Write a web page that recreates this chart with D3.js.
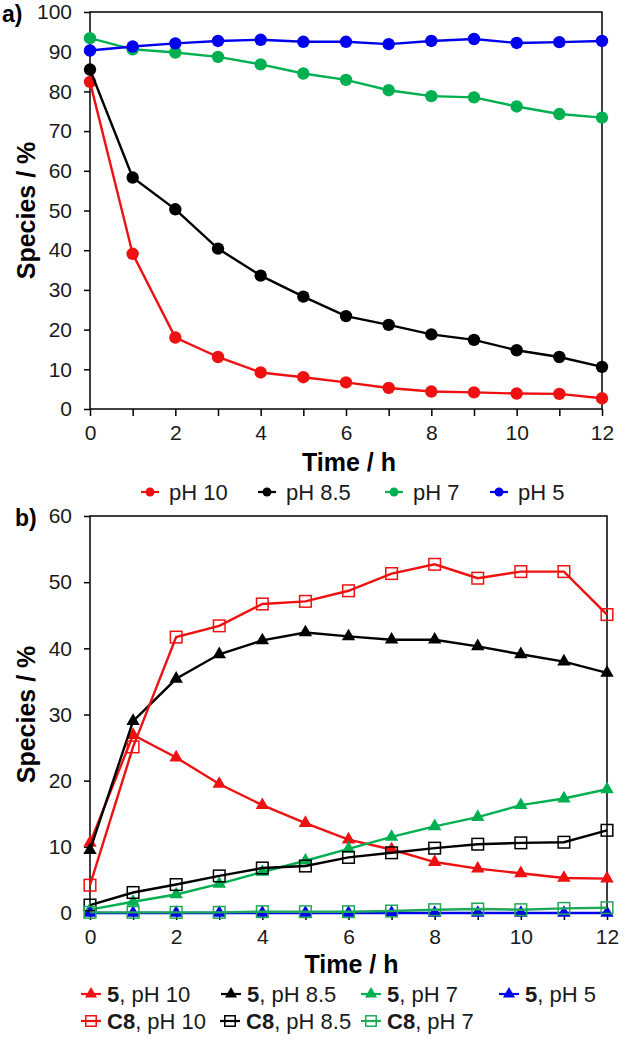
<!DOCTYPE html>
<html>
<head>
<meta charset="utf-8">
<script src="https://cdn.jsdelivr.net/npm/d3@7/dist/d3.min.js"></script>
<style>
  html, body { margin: 0; padding: 0; background: #fff; }
  svg { display: block; }
  text { font-family: "Liberation Sans", Arial, sans-serif; }
</style>
</head>
<body>
<svg id="chart" width="626" height="1040"></svg>
<script>
// ---------- DATA ----------
const hours = [0,1,2,3,4,5,6,7,8,9,10,11,12];
const xTicks = [0,2,4,6,8,10,12];

// Panel a: species remaining (%)
const a_pH10  = [82.4,39.1,18.0,13.1,9.2,8.0,6.7,5.3,4.4,4.2,3.9,3.8,2.7];
const a_pH85  = [85.5,58.3,50.3,40.4,33.6,28.3,23.4,21.2,18.8,17.4,14.8,13.1,10.6];
const a_pH7   = [93.4,90.6,89.8,88.7,86.8,84.5,82.9,80.3,78.8,78.5,76.2,74.3,73.4];
const a_pH5   = [90.3,91.3,92.1,92.7,93.0,92.5,92.5,91.9,92.7,93.2,92.2,92.4,92.7];
const aYTicks = [0,10,20,30,40,50,60,70,80,90,100];

// Panel b: product species (%)
const b5_pH10  = [10.6,26.9,23.5,19.5,16.3,13.6,11.1,9.6,7.7,6.7,6.0,5.3,5.2];
const b5_pH85  = [9.5,29.0,35.4,39.1,41.2,42.4,41.8,41.3,41.3,40.3,39.1,38.0,36.3];
const b5_pH7   = [0.5,1.7,2.8,4.4,6.2,7.9,9.7,11.5,13.1,14.5,16.3,17.3,18.7];
const b5_pH5   = [0.0,0.0,0.0,0.0,0.0,0.0,0.0,0.0,0.0,0.0,0.0,0.0,0.0];
const bC8_pH10 = [4.2,25.1,41.7,43.4,46.7,47.1,48.7,51.3,52.7,50.6,51.6,51.6,45.1];
const bC8_pH85 = [1.2,3.1,4.3,5.6,6.8,7.1,8.4,9.1,9.8,10.4,10.6,10.7,12.5];
const bC8_pH7  = [0.1,0.1,0.1,0.1,0.2,0.2,0.2,0.3,0.5,0.6,0.5,0.7,0.8];
const bYTicks = [0,10,20,30,40,50,60];

const legendA = ["pH 10","pH 8.5","pH 7","pH 5"];
const legendB = [["5",", pH 10"],["5",", pH 8.5"],["5",", pH 7"],["5",", pH 5"],
                 ["C8",", pH 10"],["C8",", pH 8.5"],["C8",", pH 7"]];

// ---------- STYLE ----------
const RED = "#ee1111", BLACK = "#000000", GREEN = "#00b050", BLUE = "#0000ee", GREEN2 = "#1fa85a";
const TICK_FS = 21, LEG_FS = 22, TITLE_FS = 25;

const svg = d3.select("#chart");

function drawFrame(g, x, y, yTicks) {
  const [x0, x1] = x.range();
  const [y0, y1] = y.range();
  const yAxis = d3.axisLeft(y).tickValues(yTicks).tickSize(6).tickPadding(12);
  const ya = g.append("g").attr("transform", `translate(${x0},0)`).call(yAxis);
  ya.select(".domain").remove();
  ya.selectAll("line").attr("stroke", "#000").attr("stroke-width", 1.5);
  ya.selectAll("text").attr("font-size", TICK_FS).attr("fill", "#1a1a1a");
  const xAxis = d3.axisBottom(x).tickValues(hours).tickSize(7).tickPadding(9)
      .tickFormat(d => xTicks.includes(d) ? d : "");
  const xa = g.append("g").attr("transform", `translate(0,${y0})`).call(xAxis);
  xa.select(".domain").remove();
  xa.selectAll("line").attr("stroke", "#000").attr("stroke-width", 1.5);
  xa.selectAll("text").attr("font-size", TICK_FS).attr("fill", "#1a1a1a");
  g.append("rect").attr("x", x0).attr("y", y1).attr("width", x1 - x0).attr("height", y0 - y1)
    .attr("fill", "none").attr("stroke", "#000").attr("stroke-width", 1.5);
}

function drawMarker(g, cx, cy, color, marker, scale) {
  const s = scale || 1;
  if (marker === "circle") {
    g.append("circle").attr("cx", cx).attr("cy", cy).attr("r", 6.2*s).attr("fill", color);
  } else if (marker === "tri") {
    const sym = d3.symbol().type(d3.symbolTriangle).size(78*s*s);
    g.append("path").attr("d", sym()).attr("transform", `translate(${cx},${cy})`).attr("fill", color);
  } else if (marker === "sq") {
    const h = 5.8*s;
    g.append("rect").attr("x", cx-h).attr("y", cy-h).attr("width", 2*h).attr("height", 2*h)
      .attr("fill", "none").attr("stroke", color).attr("stroke-width", 1.5);
  }
}

function drawSeries(g, x, y, vals, color, marker) {
  const line = d3.line().x((d,i) => x(hours[i])).y(d => y(d));
  g.append("path").datum(vals).attr("d", line).attr("fill", "none")
    .attr("stroke", color).attr("stroke-width", 2.4);
  const pts = g.append("g");
  vals.forEach((v,i) => drawMarker(pts, x(hours[i]), y(v), color, marker));
}

// ---------- PANEL A ----------
const xa = d3.scaleLinear().domain([0,12]).range([90,602]);
const ya = d3.scaleLinear().domain([0,100]).range([409,12]);
const gA = svg.append("g");
drawFrame(gA, xa, ya, aYTicks);
const seriesA = [[a_pH10,RED],[a_pH85,BLACK],[a_pH7,GREEN],[a_pH5,BLUE]];
seriesA.forEach(([v,c]) => drawSeries(gA, xa, ya, v, c, "circle"));

svg.append("text").attr("x", 2).attr("y", 22).attr("font-size", 23).attr("font-weight", "bold").text("a)");
svg.append("text").attr("transform", `translate(35,${(12+409)/2}) rotate(-90)`)
  .attr("text-anchor", "middle").attr("font-size", TITLE_FS).attr("font-weight", "bold").text("Species / %");
svg.append("text").attr("x", (90+602)/2 + 3).attr("y", 471).attr("text-anchor", "middle")
  .attr("font-size", TITLE_FS).attr("font-weight", "bold").text("Time / h");

// legend a
const legAx = [150, 267, 394, 499];
const legAcol = [RED, BLACK, GREEN, BLUE];
legendA.forEach((t,i) => {
  const cx = legAx[i], cy = 492;
  svg.append("line").attr("x1", cx-9).attr("x2", cx+9).attr("y1", cy).attr("y2", cy)
    .attr("stroke", legAcol[i]).attr("stroke-width", 2.2);
  drawMarker(svg, cx, cy, legAcol[i], "circle", 0.72);
  svg.append("text").attr("x", cx+19).attr("y", cy+7.5).attr("font-size", LEG_FS).attr("fill", "#1a1a1a").text(t);
});

// ---------- PANEL B ----------
const xb = d3.scaleLinear().domain([0,12]).range([90,607]);
const yb = d3.scaleLinear().domain([0,60]).range([913,516]);
const gB = svg.append("g");
drawFrame(gB, xb, yb, bYTicks);
const seriesB = [
  [b5_pH10,RED,"tri"],[b5_pH85,BLACK,"tri"],[b5_pH7,GREEN,"tri"],[b5_pH5,BLUE,"tri"],
  [bC8_pH10,RED,"sq"],[bC8_pH85,BLACK,"sq"],[bC8_pH7,GREEN2,"sq"]
];
seriesB.forEach(([v,c,m]) => drawSeries(gB, xb, yb, v, c, m));

svg.append("text").attr("x", 15).attr("y", 526).attr("font-size", 23).attr("font-weight", "bold").text("b)");
svg.append("text").attr("transform", `translate(35,${(516+913)/2}) rotate(-90)`)
  .attr("text-anchor", "middle").attr("font-size", TITLE_FS).attr("font-weight", "bold").text("Species / %");
svg.append("text").attr("x", (90+607)/2 + 3).attr("y", 973).attr("text-anchor", "middle")
  .attr("font-size", TITLE_FS).attr("font-weight", "bold").text("Time / h");

// legend b
const legBpos = [[91,994],[231,994],[371,994],[509,994],[91,1021],[230,1021],[371,1021]];
legendB.forEach((t,i) => {
  const [cx, cy] = legBpos[i];
  const [, c, m] = seriesB[i];
  svg.append("line").attr("x1", cx-10).attr("x2", cx+10).attr("y1", cy).attr("y2", cy)
    .attr("stroke", c).attr("stroke-width", 2.2);
  drawMarker(svg, cx, cy, c, m, 0.9);
  const tx = svg.append("text").attr("x", cx+16).attr("y", cy+7.5).attr("font-size", LEG_FS).attr("fill", "#1a1a1a");
  tx.append("tspan").attr("font-weight", "bold").text(t[0]);
  tx.append("tspan").text(t[1]);
});
</script>
</body>
</html>
